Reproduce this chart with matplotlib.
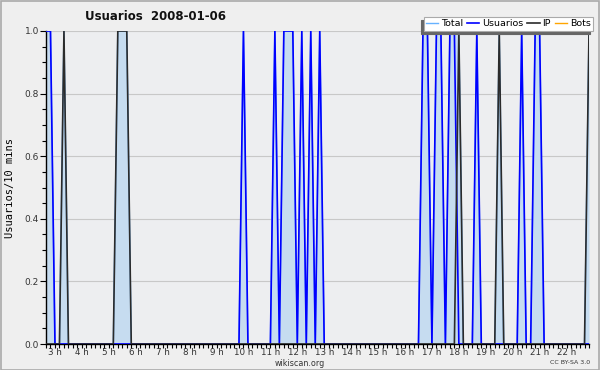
import matplotlib
matplotlib.use("Agg")
import matplotlib.pyplot as plt
from matplotlib.ticker import MultipleLocator, FixedLocator, FuncFormatter
import numpy as np

# ---- data (10-minute bins starting at 02:40) ----
start_hour = 2 + 40 / 60
bin_hours = 1 / 6

usuarios = [
    1, 1, 0, 0, 0, 0, 0, 0, 0, 0,
    0, 0, 0, 0, 0, 0, 0, 0, 0, 0,
    0, 0, 0, 0, 0, 0, 0, 0, 0, 0,
    0, 0, 0, 0, 0, 0, 0, 0, 0, 0,
    0, 0, 0, 0, 1, 0, 0, 0, 0, 0,
    0, 1, 0, 1, 1, 1, 0, 1, 0, 1,
    0, 1, 0, 0, 0, 0, 0, 0, 0, 0,
    0, 0, 0, 0, 0, 0, 0, 0, 0, 0,
    0, 0, 0, 0, 1, 1, 0, 1, 1, 0,
    1, 1, 0, 0, 0, 0, 1, 0, 0, 0,
    0, 0, 0, 0, 0, 0, 1, 0, 0, 1,
    1, 0, 0, 0, 0, 0, 0, 0, 0, 0,
    0, 0,
]
ip = [
    0, 0, 0, 0, 1, 0, 0, 0, 0, 0,
    0, 0, 0, 0, 0, 0, 1, 1, 1, 0,
    0, 0, 0, 0, 0, 0, 0, 0, 0, 0,
    0, 0, 0, 0, 0, 0, 0, 0, 0, 0,
    0, 0, 0, 0, 0, 0, 0, 0, 0, 0,
    0, 0, 0, 0, 0, 0, 0, 0, 0, 0,
    0, 0, 0, 0, 0, 0, 0, 0, 0, 0,
    0, 0, 0, 0, 0, 0, 0, 0, 0, 0,
    0, 0, 0, 0, 0, 0, 0, 0, 0, 0,
    0, 0, 1, 0, 0, 0, 0, 0, 0, 0,
    0, 1, 0, 0, 0, 0, 0, 0, 0, 0,
    0, 0, 0, 0, 0, 0, 0, 0, 0, 0,
    0, 1,
]
bots = [0] * len(usuarios)
hour_labels = [3, 4, 5, 6, 7, 8, 9, 10, 11, 12, 13, 14, 15, 16, 17, 18, 19, 20, 21, 22]

u = np.array(usuarios, dtype=float)
i_ = np.array(ip, dtype=float)
b = np.array(bots, dtype=float)
total = u + i_ + b
x = start_hour + np.arange(len(u)) * bin_hours

# ---- figure ----
fig = plt.figure(figsize=(6, 3.7), dpi=100, facecolor="#efefef")
ax = fig.add_axes([46 / 600, 1 - 344 / 370, 543 / 600, 313 / 370])
ax.set_facecolor("#edeef0")

ax.fill_between(x, 0, total, color="#c6dcf0", lw=0, zorder=2)
ax.plot(x, total, color="#66b2ff", lw=1.0, zorder=3, label="Total")
ax.plot(x, u, color="#0000ff", lw=1.2, zorder=4, label="Usuarios")
ax.plot(x, i_, color="#2b2b2b", lw=1.2, zorder=5, label="IP")
ax.plot(x, b, color="#ffa500", lw=1.0, zorder=1, label="Bots", alpha=0)

ax.set_xlim(x[0], x[-1])
ax.set_ylim(0, 1)

for s in ["top", "right"]:
    ax.spines[s].set_visible(False)
ax.spines["left"].set_linewidth(1.0)
ax.spines["bottom"].set_linewidth(1.0)

ax.yaxis.set_major_locator(MultipleLocator(0.2))
ax.yaxis.set_minor_locator(MultipleLocator(0.05))
ax.yaxis.set_major_formatter(FuncFormatter(lambda v, p: f"{v:.1f}"))
ax.grid(axis="y", which="major", color="#c8c8c8", lw=0.8, zorder=0)
ax.tick_params(axis="y", which="major", length=4, width=0.8, labelsize=6.5,
               pad=1, labelcolor="#333333")
ax.tick_params(axis="y", which="minor", length=3, width=0.8)

ax.xaxis.set_major_locator(FixedLocator(hour_labels))
ax.set_xticklabels([f"{h} h" for h in hour_labels])
ax.xaxis.set_minor_locator(MultipleLocator(bin_hours))
ax.tick_params(axis="x", which="major", length=3, width=0.8, labelsize=6.3,
               pad=0, labelcolor="#333333")
ax.tick_params(axis="x", which="minor", length=3, width=0.8)

ax.set_ylabel("Usuarios/10 mins", family="DejaVu Sans Mono", fontsize=7.5)
ax.yaxis.set_label_coords(-0.058, 0.5)

fig.text(85 / 600, 1 - 16 / 370, "Usuarios  2008-01-06", fontsize=8.5,
         fontweight="bold", ha="left", va="center", color="#111111")
fig.text(300 / 600, 1 - 363 / 370, "wikiscan.org", fontsize=5.8, ha="center",
         va="center", color="#333333")
fig.text(590 / 600, 1 - 363 / 370, "CC BY-SA 3.0", fontsize=4.5, ha="right",
         va="center", color="#333333")

handles, labels = ax.get_legend_handles_labels()
handles[3] = plt.Line2D([], [], color="#ffa500", lw=1.0)
leg = fig.legend(handles, labels, loc="upper right", ncol=4,
                 bbox_to_anchor=(593 / 600, 1 - 17 / 370), fontsize=6.8,
                 frameon=True, fancybox=False, handlelength=1.3,
                 handletextpad=0.3, columnspacing=0.4, borderpad=0.25,
                 borderaxespad=0,
                 shadow={"ox": -2, "oy": -2, "color": "#666666", "alpha": 1})
leg.get_frame().set_edgecolor("#aaaaaa")
leg.get_frame().set_facecolor("white")
leg.get_frame().set_linewidth(0.8)
leg.set_zorder(10)

# figure border
fig.patches.append(plt.Rectangle((0.001, 0.001), 0.998, 0.997,
                                 transform=fig.transFigure, fill=False,
                                 edgecolor="#aaaaaa", lw=1.2))

fig.savefig("out.png", dpi=100, facecolor=fig.get_facecolor())
